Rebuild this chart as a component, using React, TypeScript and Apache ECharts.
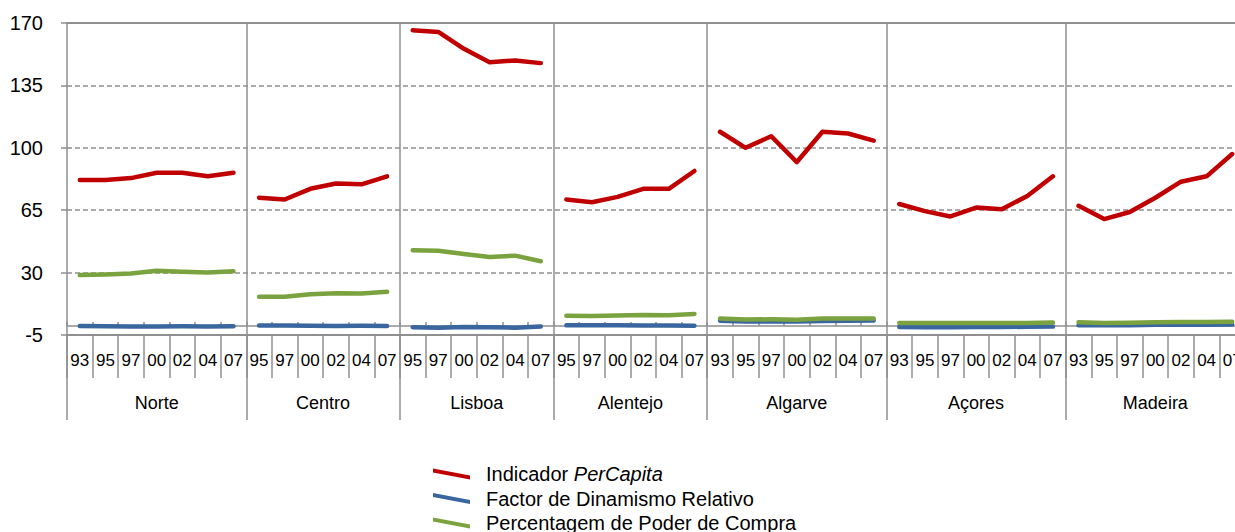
import React, { useEffect, useRef } from "react";
import * as echarts from "echarts";

const regions = ["Norte", "Centro", "Lisboa", "Alentejo", "Algarve", "Açores", "Madeira"];
const regionYears = [
  ["93", "95", "97", "00", "02", "04", "07"],
  ["95", "97", "00", "02", "04", "07"],
  ["95", "97", "00", "02", "04", "07"],
  ["95", "97", "00", "02", "04", "07"],
  ["93", "95", "97", "00", "02", "04", "07"],
  ["93", "95", "97", "00", "02", "04", "07"],
  ["93", "95", "97", "00", "02", "04", "07"],
];

const seriesNames = [
  "Indicador PerCapita",
  "Factor de Dinamismo Relativo",
  "Percentagem de Poder de Compra",
];
const seriesColors = ["#C00000", "#3A66A0", "#7AA23F"];

const perCapita = [
  [82, 82, 83, 86, 86, 84, 86],
  [72, 71, 77, 80, 79.5, 84],
  [166, 165, 155.5, 148, 149, 147.5],
  [71, 69.5, 72.5, 77, 77, 87],
  [109, 100, 106.5, 92, 109, 108, 104],
  [68.5, 64.5, 61.5, 66.5, 65.5, 73, 84],
  [67.5, 60, 64, 72, 81, 84, 96.5],
];
const dinamismo = [
  [0.0, -0.1, -0.2, -0.2, -0.1, -0.2, -0.1],
  [0.3, 0.3, 0.2, 0.1, 0.2, 0.1],
  [-0.6, -1.0, -0.5, -0.6, -0.9, -0.3],
  [0.4, 0.5, 0.4, 0.3, 0.3, 0.2],
  [3.0, 2.6, 2.6, 2.6, 2.9, 3.0, 3.1],
  [-0.5, -0.6, -0.6, -0.5, -0.5, -0.4, -0.3],
  [0.5, 0.4, 0.5, 0.7, 0.8, 0.8, 0.9],
];
const poderCompra = [
  [28.6, 29, 29.5, 31, 30.5, 30, 30.8],
  [16.5, 16.5, 17.8, 18.4, 18.3, 19.2],
  [42.5, 42.3, 40.4, 38.7, 39.5, 36.4],
  [5.8, 5.6, 5.9, 6.2, 6.1, 6.8],
  [4.3, 3.7, 3.8, 3.6, 4.2, 4.3, 4.3],
  [1.8, 1.7, 1.7, 1.8, 1.7, 1.8, 2.0],
  [2.2, 1.8, 1.9, 2.1, 2.3, 2.3, 2.4],
];

const yMin = -5;
const yMax = 170;
const yInterval = 35;

const FONT = "'Liberation Sans', Arial, Helvetica, sans-serif";
const GRAY = "#8f8f8f";

export default function App() {
  const ref = useRef<HTMLDivElement>(null);

  useEffect(() => {
    if (!ref.current) return;
    const chart = echarts.init(ref.current, undefined, { renderer: "svg" });

    const categories: string[] = [];
    const starts: number[] = [];
    regionYears.forEach((ys, r) => {
      starts.push(categories.length);
      ys.forEach((y) => categories.push(regions[r] + "|" + y));
    });
    const total = categories.length;
    const boundaries = [...starts, total];
    const centers = starts.map((s, i) => (s + boundaries[i + 1]) / 2);
    const innerBoundaries = starts.slice(1);

    const datasets = [perCapita, dinamismo, poderCompra];
    const series: any[] = [];
    datasets.forEach((ds, si) => {
      ds.forEach((vals, r) => {
        const arr: (number | null)[] = new Array(total).fill(null);
        vals.forEach((v, k) => {
          arr[starts[r] + k] = v;
        });
        series.push({
          name: seriesNames[si],
          type: "line",
          xAxisIndex: 0,
          yAxisIndex: 0,
          data: arr,
          color: seriesColors[si],
          itemStyle: { color: seriesColors[si] },
          lineStyle: { color: seriesColors[si], width: 4.5, cap: "round", join: "round" },
          showSymbol: false,
          symbol: "none",
          connectNulls: false,
          z: 3 + si,
        });
      });
    });

    const yearFmt = (v: string) => v.split("|")[1];

    chart.setOption({
      animation: false,
      grid: {
        left: 67,
        top: 23,
        height: 312,
        width: 1178,
        containLabel: false,
        outerBoundsMode: "none",
      },
      legend: {
        data: seriesNames,
        orient: "vertical",
        left: 433,
        top: 464,
        height: 90,
        padding: 0,
        itemWidth: 37,
        itemHeight: 11,
        itemGap: 4.5,
        icon: "path://M0,0L37,7L37,11L0,4Z",
        formatter: (name: string) =>
          name === "Indicador PerCapita" ? "Indicador {i|PerCapita}" : name,
        textStyle: {
          fontFamily: FONT,
          fontSize: 20,
          lineHeight: 20,
          color: "#000",
          padding: [0, 0, 0, 11],
          rich: {
            i: { fontFamily: FONT, fontSize: 20, fontStyle: "italic", color: "#000", lineHeight: 20 },
          },
        },
        selectedMode: false,
      },
      xAxis: [
        {
          type: "category",
          data: categories,
          position: "bottom",
          boundaryGap: true,
          axisLine: { show: true, onZero: true, lineStyle: { color: GRAY, width: 1.5 } },
          axisTick: { show: true, inside: true, length: 4, interval: 0, lineStyle: { color: GRAY, width: 1.5 } },
          axisLabel: { show: false },
          splitLine: {
            show: true,
            interval: (index: number) => innerBoundaries.includes(index),
            lineStyle: { color: GRAY, width: 1.5, type: "solid" },
          },
          z: 2,
        },
        {
          type: "category",
          data: categories,
          position: "bottom",
          boundaryGap: true,
          axisLine: { show: true, onZero: false, lineStyle: { color: GRAY, width: 2 } },
          axisTick: { show: true, length: 43, interval: 0, lineStyle: { color: GRAY, width: 1.5 } },
          axisLabel: {
            show: true,
            interval: 0,
            margin: 17,
            fontSize: 17,
            fontFamily: FONT,
            color: "#000",
            formatter: yearFmt,
          },
          splitLine: { show: false },
        },
        {
          type: "value",
          min: 0,
          max: total,
          position: "bottom",
          axisLine: { show: false, onZero: false },
          axisTick: {
            show: true,
            length: 85,
            customValues: boundaries,
            lineStyle: { color: GRAY, width: 1.5 },
          },
          axisLabel: {
            show: true,
            customValues: centers,
            margin: 59,
            fontSize: 18,
            fontFamily: FONT,
            color: "#000",
            formatter: (v: number) => {
              const i = centers.indexOf(v);
              return i >= 0 ? regions[i] : "";
            },
          },
          splitLine: { show: false },
        },
        {
          type: "category",
          data: categories,
          position: "top",
          axisLine: { show: true, onZero: false, lineStyle: { color: GRAY, width: 2 } },
          axisTick: { show: false },
          axisLabel: { show: false },
          splitLine: { show: false },
        },
      ],
      yAxis: {
        type: "value",
        min: yMin,
        max: yMax,
        interval: yInterval,
        axisLine: { show: true, onZero: false, lineStyle: { color: GRAY, width: 1.5 } },
        axisTick: { show: true, length: 6, lineStyle: { color: GRAY, width: 1.5 } },
        axisLabel: { margin: 24, fontSize: 20, fontFamily: FONT, color: "#000" },
        splitLine: { show: true, lineStyle: { color: GRAY, width: 1.5, type: [5, 3] } },
      },
      series,
    });

    return () => chart.dispose();
  }, []);

  return (
    <div
      ref={ref}
      style={{ position: "absolute", left: 0, top: 0, width: 1235, height: 532, background: "#fff" }}
    />
  );
}
